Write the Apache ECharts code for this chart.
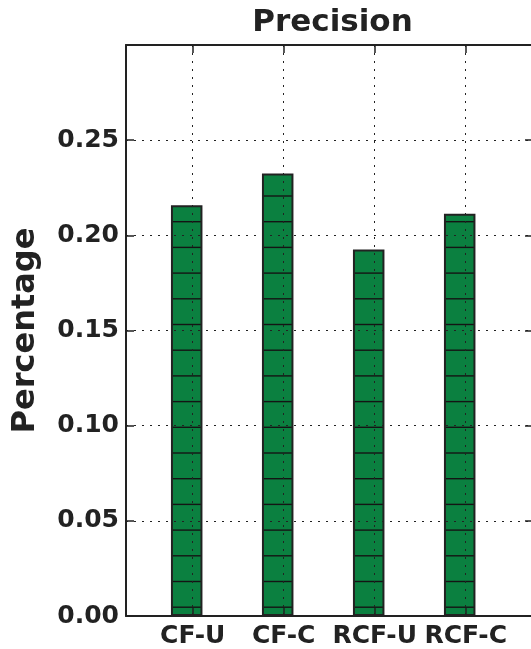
<!DOCTYPE html>
<html>
<head>
<meta charset="utf-8">
<script src="https://cdn.jsdelivr.net/npm/echarts@6/dist/echarts.min.js"></script>
<style>
  html, body { margin: 0; padding: 0; background: #fff; }
  #main { width: 531px; height: 649px; }
</style>
</head>
<body>
<div id="main"></div>
<script>
// data
const methods = ['CF-U', 'CF-C', 'RCF-U', 'RCF-C'];
const precision = [0.2158, 0.2325, 0.1926, 0.2114];
const yTicks = [0, 0.05, 0.10, 0.15, 0.20, 0.25, 0.30];

const ink = '#222';
const green = '#0b8040';
const font = 'DejaVu Sans';

// horizontal hatching like matplotlib '-' hatch (period ~25.7px)
const hatch = (function () {
    const c = document.createElement('canvas');
    c.width = 8;
    c.height = 257;
    const ctx = c.getContext('2d');
    ctx.fillStyle = green;
    ctx.fillRect(0, 0, c.width, c.height);
    ctx.fillStyle = '#141414';
    for (let k = 0; k < 10; k++) {
        const y = 16.1 + 25.7 * k;
        ctx.fillRect(0, y - 0.7, c.width, 1.4);
    }
    return c;
})();

const chart = echarts.init(document.getElementById('main'), null, {renderer: 'canvas'});

const gridTop = 45, gridBottom = 33;
const dotted = {type: [2, 6], color: '#222', width: 1};
const tickStyle = {show: true, inside: true, length: 8, lineStyle: {color: ink, width: 1.5}};

const option = {
    animation: false,
    grid: [
        // frame: spines, horizontal grid, y labels (right spine just off the page)
        {left: 126, right: -2, top: gridTop, bottom: gridBottom, outerBoundsMode: 'none', containLabel: false},
        // category ticks / vertical grid / labels
        {left: 192.7, right: 65.3, top: gridTop, bottom: gridBottom, outerBoundsMode: 'none', containLabel: false},
        // bars (matplotlib edge-aligned, shifted left of the ticks)
        {left: 186.7, right: 71.3, top: gridTop, bottom: gridBottom, outerBoundsMode: 'none', containLabel: false}
    ],
    xAxis: [
        {   // bottom spine
            gridIndex: 0, type: 'value', min: 0, max: 1, position: 'bottom',
            axisLine: {show: true, onZero: false, lineStyle: {color: ink, width: 2}},
            axisTick: {show: false}, axisLabel: {show: false}, splitLine: {show: false}
        },
        {   // top spine + title
            gridIndex: 0, type: 'value', min: 0, max: 1, position: 'top',
            name: 'Precision', nameLocation: 'middle', nameGap: 7,
            nameTextStyle: {fontFamily: font, fontWeight: 'bold', fontSize: 31, color: ink, padding: [0, 0, 0, 6]},
            axisLine: {show: true, onZero: false, lineStyle: {color: ink, width: 2}},
            axisTick: {show: false}, axisLabel: {show: false}, splitLine: {show: false}
        },
        {   // categories
            gridIndex: 1, type: 'category', data: methods, boundaryGap: false, position: 'bottom', z: 5,
            axisLine: {show: false, onZero: false},
            axisTick: tickStyle,
            axisLabel: {fontFamily: font, fontWeight: 'bold', fontSize: 25, color: ink, margin: 8, interval: 0},
            splitLine: {show: true, lineStyle: dotted}
        },
        {   // top ticks
            gridIndex: 1, type: 'category', data: methods, boundaryGap: false, position: 'top', z: 5,
            axisLine: {show: false, onZero: false},
            axisTick: tickStyle,
            axisLabel: {show: false}, splitLine: {show: false}
        },
        {   // bars
            gridIndex: 2, type: 'category', data: methods, boundaryGap: false, show: false
        }
    ],
    yAxis: [
        {
            gridIndex: 0, type: 'value', position: 'left',
            min: yTicks[0], max: yTicks[yTicks.length - 1], interval: 0.05, z: 5,
            name: 'Percentage', nameLocation: 'middle', nameGap: 84,
            nameTextStyle: {fontFamily: font, fontWeight: 'bold', fontSize: 32, color: ink},
            axisLine: {show: true, onZero: false, lineStyle: {color: ink, width: 2}},
            axisTick: tickStyle,
            axisLabel: {
                fontFamily: font, fontWeight: 'bold', fontSize: 25, color: ink, margin: 7,
                showMaxLabel: false,
                formatter: v => v.toFixed(2)
            },
            splitLine: {show: true, lineStyle: dotted}
        },
        {
            gridIndex: 0, type: 'value', position: 'right',
            min: yTicks[0], max: yTicks[yTicks.length - 1], interval: 0.05, z: 5,
            axisLine: {show: true, onZero: false, lineStyle: {color: ink, width: 2}},
            axisTick: tickStyle,
            axisLabel: {show: false}, splitLine: {show: false}
        },
        {gridIndex: 1, type: 'value', min: 0, max: 0.3, show: false},
        {gridIndex: 2, type: 'value', min: 0, max: 0.3, show: false}
    ],
    series: [
        {
            type: 'bar',
            xAxisIndex: 4,
            yAxisIndex: 3,
            data: precision,
            barWidth: 31.5,
            itemStyle: {
                color: {image: hatch, repeat: 'repeat'},
                borderColor: ink,
                borderWidth: 2
            }
        }
    ]
};

chart.setOption(option);
</script>
</body>
</html>
